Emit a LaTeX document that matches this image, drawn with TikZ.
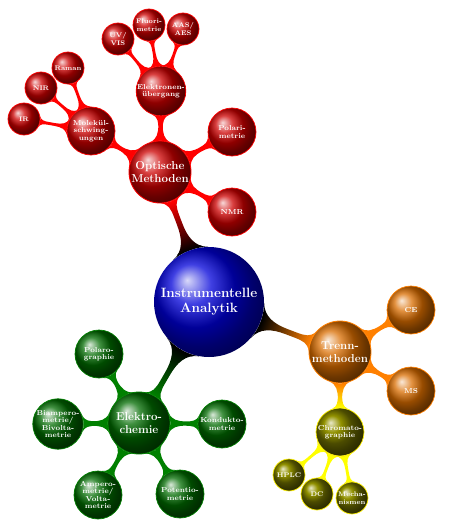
\documentclass[tikz,border=0pt]{standalone}
\usetikzlibrary{mindmap,shadings}
\pgfdeclarelayer{background}
\pgfsetlayers{background,main}
\tikzset{
  ballbase/.style={circle, inner sep=0pt, align=center, text=white},
  rootb/.style={ballbase, minimum size=110pt, ball color=blue!85!black, font=\bfseries\fontsize{13.5}{15}\selectfont},
  lvA/.style={ballbase, minimum size=62pt, line width=0.8pt, font=\bfseries\fontsize{11.5}{13}\selectfont},
  lvB/.style={ballbase, minimum size=48pt, line width=0.7pt, font=\bfseries\fontsize{7.2}{7.3}\selectfont},
  lvC/.style={ballbase, minimum size=32pt, line width=0.7pt, font=\bfseries\fontsize{6.7}{7.5}\selectfont},
  redb/.style={ball color=red!80!black, draw=red},
  orab/.style={ball color=orange!85!black, draw=orange},
  olib/.style={ball color=olive!85!black, draw=yellow},
  greb/.style={ball color=green!42!black, draw=green!50!black},
  barA/.style={line width=6.5pt},
  barB/.style={line width=5pt},
  barC/.style={line width=3.5pt},
}
\begin{document}
\begin{tikzpicture}[x=1pt,y=-1pt]
\useasboundingbox (0,0) rectangle (450,527);
% root
\node[rootb] (root) at (209,302) {Instrumentelle\\Analytik};
% optische
\node[lvA,redb] (opt) at (160,172) {Optische\\Methoden};
\node[lvB,redb] (elu) at (161,91) {Elektronen-\\übergang};
\node[lvB,redb] (mol) at (91,131) {Molekül-\\schwing-\\ungen};
\node[lvB,redb] (pol) at (232,132) {Polari-\\metrie};
\node[lvB,redb] (nmr) at (232,212) {NMR};
\node[lvC,redb] (uv) at (118,39) {UV/\\VIS};
\node[lvC,redb] (flu) at (149,25) {Fluori-\\metrie};
\node[lvC,redb] (aas) at (183,29) {AAS/\\AES};
\node[lvC,redb] (ram) at (68,68) {Raman};
\node[lvC,redb] (nir) at (41,88) {NIR};
\node[lvC,redb] (ir) at (24,119) {IR};
% trenn
\node[lvA,orab] (tre) at (340,352) {Trenn-\\methoden};
\node[lvB,orab] (ce) at (411,310) {CE};
\node[lvB,orab] (ms) at (411,391) {MS};
\node[lvB,olib] (chr) at (340,432) {Chromato-\\graphie};
\node[lvC,olib] (hplc) at (289,475) {HPLC};
\node[lvC,olib] (dc) at (317,494) {DC};
\node[lvC,olib] (mech) at (352,498) {Mecha-\\nismen};
% elektro
\node[lvA,greb] (ele) at (139,423) {Elektro-\\chemie};
\node[lvB,greb] (plg) at (99,354) {Polaro-\\graphie};
\node[lvB,greb] (bia) at (58,424) {Biampero-\\metrie/\\Bivolta-\\metrie};
\node[lvB,greb] (kon) at (222,424) {Kondukto-\\metrie};
\node[lvB,greb] (amp) at (98,495) {Ampero-\\metrie/\\Volta-\\metrie};
\node[lvB,greb] (pot) at (180,494) {Potentio-\\metrie};
\begin{pgfonlayer}{background}
\path[barA] (root) to[circle connection bar switch color=from (black) to (red)] (opt);
\path[barA] (root) to[circle connection bar switch color=from (black) to (orange)] (tre);
\path[barA] (root) to[circle connection bar switch color=from (black) to (green!50!black)] (ele);
\foreach \c in {elu,mol,pol,nmr}
  \path[barB] (opt) to[circle connection bar switch color=from (red) to (red)] (\c);
\foreach \c in {uv,flu,aas}
  \path[barC] (elu) to[circle connection bar switch color=from (red) to (red)] (\c);
\foreach \c in {ram,nir,ir}
  \path[barC] (mol) to[circle connection bar switch color=from (red) to (red)] (\c);
\foreach \c in {ce,ms}
  \path[barB] (tre) to[circle connection bar switch color=from (orange) to (orange)] (\c);
\path[barB] (tre) to[circle connection bar switch color=from (orange) to (yellow)] (chr);
\foreach \c in {hplc,dc,mech}
  \path[barC] (chr) to[circle connection bar switch color=from (yellow) to (yellow)] (\c);
\foreach \c in {plg,bia,kon,amp,pot}
  \path[barB] (ele) to[circle connection bar switch color=from (green!50!black) to (green!50!black)] (\c);
\end{pgfonlayer}
\end{tikzpicture}
\end{document}
